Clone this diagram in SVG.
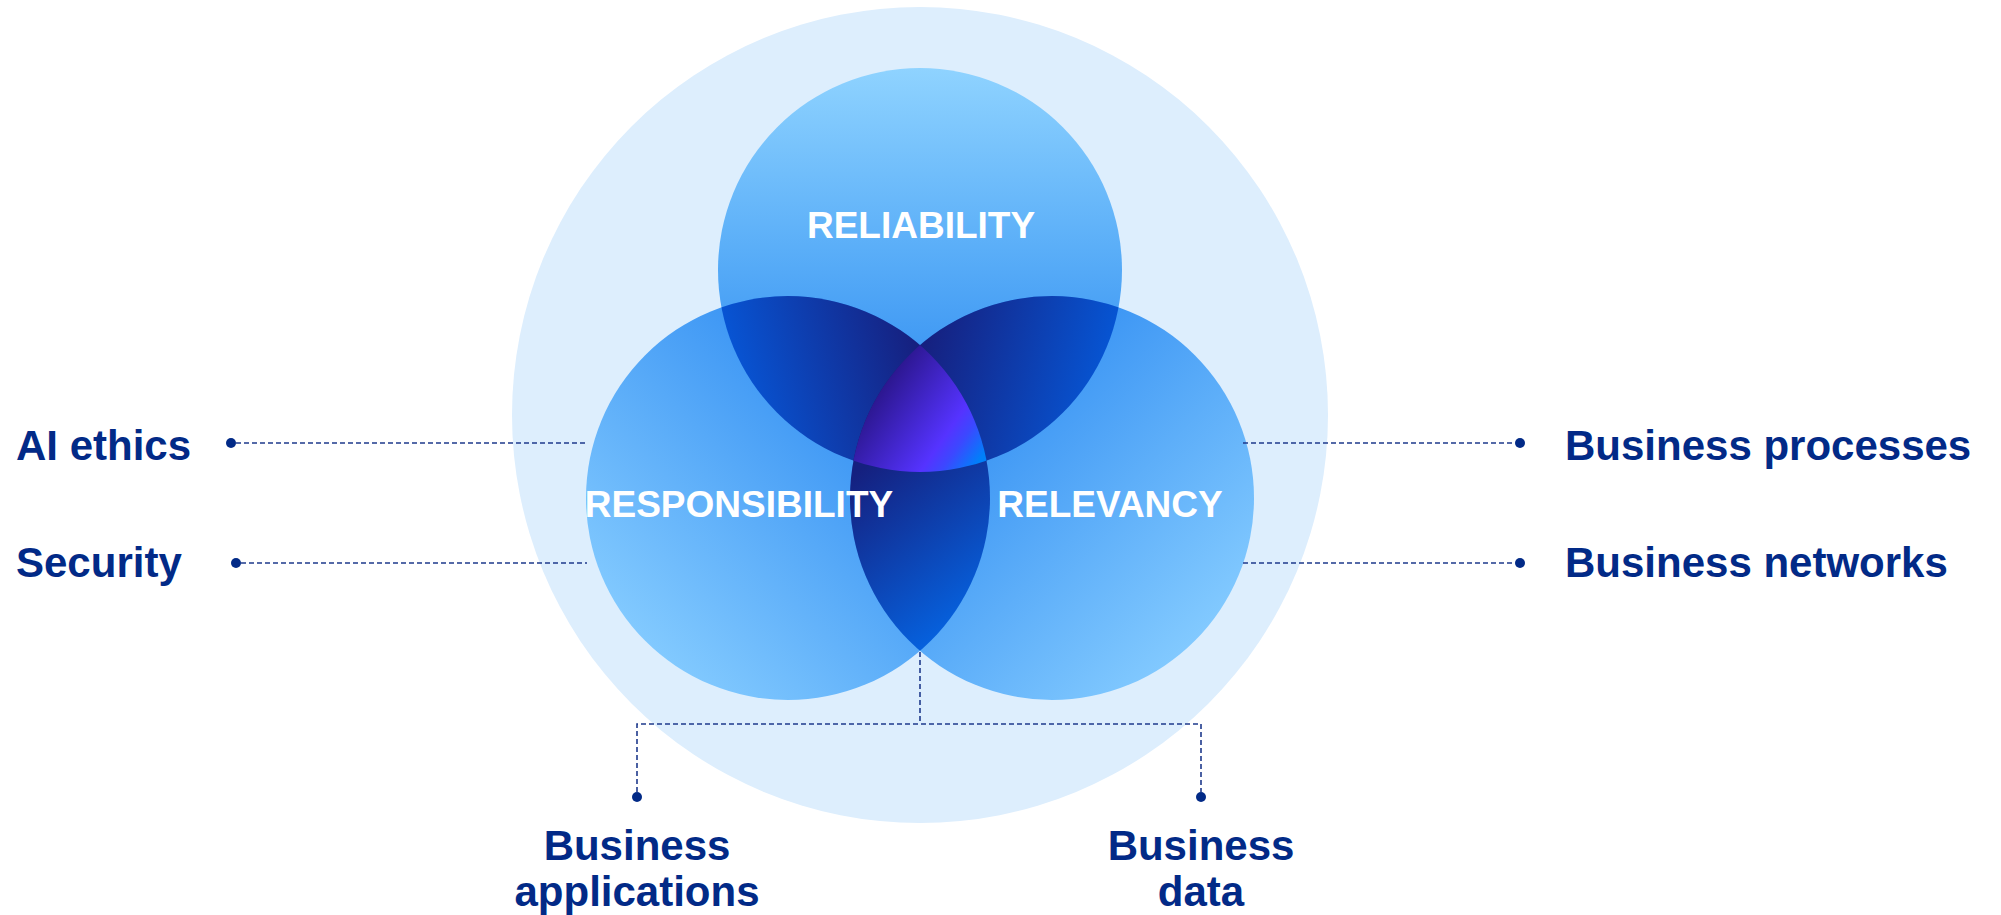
<svg xmlns="http://www.w3.org/2000/svg" width="2001" height="915" viewBox="0 0 2001 915">
<style>
.lbl{font-family:"Liberation Sans",Arial,sans-serif;font-weight:bold;font-size:42px;fill:#022A87}
.cir{font-family:"Liberation Sans",Arial,sans-serif;font-weight:bold;font-size:37px;fill:#FFFFFF;text-anchor:middle}
.dash{fill:none;stroke:#1E3A8C;stroke-width:1.6;stroke-dasharray:5 3}
.dot{fill:#022A87}
</style>
<defs>
<linearGradient id="gTop" gradientUnits="userSpaceOnUse" x1="920" y1="68" x2="920" y2="472">
<stop offset="0" stop-color="#8FD3FF"/><stop offset="0.45" stop-color="#5AAEF8"/><stop offset="1" stop-color="#1F7FEE"/>
</linearGradient>
<linearGradient id="gLeft" gradientUnits="userSpaceOnUse" x1="640" y1="650" x2="900" y2="390">
<stop offset="0" stop-color="#84CBFF"/><stop offset="1" stop-color="#2F8CF2"/>
</linearGradient>
<linearGradient id="gRight" gradientUnits="userSpaceOnUse" x1="1200" y1="650" x2="940" y2="390">
<stop offset="0" stop-color="#84CBFF"/><stop offset="1" stop-color="#2F8CF2"/>
</linearGradient>
<linearGradient id="gTL" gradientUnits="userSpaceOnUse" x1="725" y1="390" x2="915" y2="340">
<stop offset="0" stop-color="#0659DB"/><stop offset="1" stop-color="#16207F"/>
</linearGradient>
<linearGradient id="gTR" gradientUnits="userSpaceOnUse" x1="925" y1="340" x2="1115" y2="390">
<stop offset="0" stop-color="#16207F"/><stop offset="1" stop-color="#0559DA"/>
</linearGradient>
<linearGradient id="gLR" gradientUnits="userSpaceOnUse" x1="860" y1="470" x2="975" y2="620">
<stop offset="0" stop-color="#15207F"/><stop offset="1" stop-color="#0564E2"/>
</linearGradient>
<linearGradient id="gC" gradientUnits="userSpaceOnUse" x1="875" y1="365" x2="990" y2="445">
<stop offset="0" stop-color="#221075"/><stop offset="0.7" stop-color="#5533FF"/><stop offset="0.82" stop-color="#3C48FF"/><stop offset="1" stop-color="#0080FA"/>
</linearGradient>
<clipPath id="cTop"><circle cx="920" cy="270" r="202"/></clipPath>
<clipPath id="cLeft"><circle cx="788" cy="498" r="202"/></clipPath>
<clipPath id="cRight"><circle cx="1052" cy="498" r="202"/></clipPath>
</defs>
<rect width="2001" height="915" fill="#FFFFFF"/>
<g id="outer"><circle cx="920" cy="415" r="408" fill="#DDEEFD"/></g>
<g id="reliability">
<circle cx="920" cy="270" r="202" fill="url(#gTop)"/>
</g>
<g id="responsibility">
<circle cx="788" cy="498" r="202" fill="url(#gLeft)"/>
</g>
<g id="relevancy">
<circle cx="1052" cy="498" r="202" fill="url(#gRight)"/>
</g>
<g id="overlaps">
<g clip-path="url(#cTop)"><circle cx="788" cy="498" r="202" fill="url(#gTL)"/></g>
<g clip-path="url(#cTop)"><circle cx="1052" cy="498" r="202" fill="url(#gTR)"/></g>
<g clip-path="url(#cLeft)"><circle cx="1052" cy="498" r="202" fill="url(#gLR)"/></g>
<g clip-path="url(#cLeft)"><g clip-path="url(#cRight)"><circle cx="920" cy="270" r="202" fill="url(#gC)"/></g></g>
</g>
<g id="circle-labels">
<text class="cir" x="921" y="238">RELIABILITY</text>
<text class="cir" x="739" y="517">RESPONSIBILITY</text>
<text class="cir" x="1110" y="517">RELEVANCY</text>
</g>
<g id="connectors">
<line class="dash" x1="236" y1="443" x2="587" y2="443"/>
<line class="dash" x1="241" y1="563" x2="587" y2="563"/>
<line class="dash" x1="1243" y1="443" x2="1515" y2="443"/>
<line class="dash" x1="1243" y1="563" x2="1515" y2="563"/>
<polyline class="dash" points="920,652 920,724"/>
<polyline class="dash" points="637,792 637,724 1201,724 1201,792"/>
<circle class="dot" cx="231" cy="443" r="5"/>
<circle class="dot" cx="236" cy="563" r="5"/>
<circle class="dot" cx="1520" cy="443" r="5"/>
<circle class="dot" cx="1520" cy="563" r="5"/>
<circle class="dot" cx="637" cy="797" r="5"/>
<circle class="dot" cx="1201" cy="797" r="5"/>
</g>
<g id="ai-ethics"><text class="lbl" x="16" y="460">AI ethics</text></g>
<g id="security"><text class="lbl" x="16" y="577">Security</text></g>
<g id="business-processes"><text class="lbl" x="1565" y="460">Business processes</text></g>
<g id="business-networks"><text class="lbl" x="1565" y="577">Business networks</text></g>
<g id="business-applications"><text class="lbl" x="637" y="860" text-anchor="middle">Business<tspan x="637" y="906">applications</tspan></text></g>
<g id="business-data"><text class="lbl" x="1201" y="860" text-anchor="middle">Business<tspan x="1201" y="906">data</tspan></text></g>
</svg>
